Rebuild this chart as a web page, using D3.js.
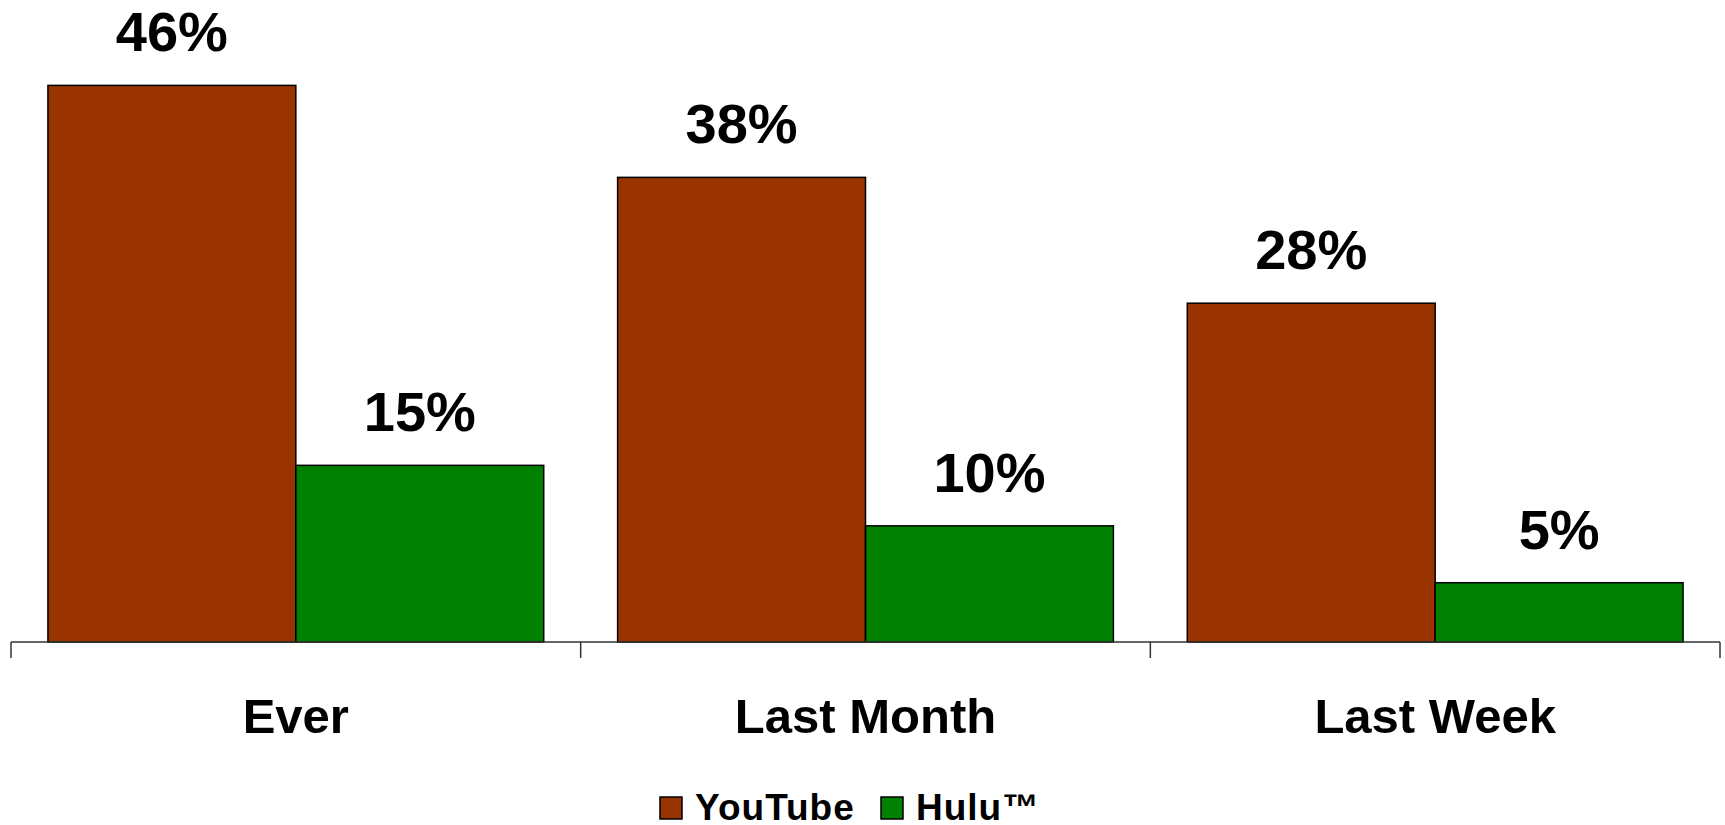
<!DOCTYPE html>
<html>
<head>
<meta charset="utf-8">
<script src="https://cdn.jsdelivr.net/npm/d3@7"></script>
<style>
  body { margin: 0; background: #fff; }
  text { font-family: "Liberation Sans", Arial, sans-serif; font-weight: bold; }
</style>
</head>
<body>
<script>
// width and height for svg
var w = 1725;
var h = 825;
var baseY = 642;

// chart data (bar heights, labels are rounded)
var categories = ["Ever", "Last Month", "Last Week"];
var series = ["YouTube", "Hulu\u2122"];
var youtube = [46, 38.4, 28];
var hulu = [14.6, 9.6, 4.9];
var colors = ["#993300", "#008000"];

var values = [youtube, hulu];

var svg = d3.select("body")
            .append("svg")
            .attr("width", w)
            .attr("height", h);

// scales
var x = d3.scaleBand()
          .domain(categories)
          .range([11, 1720]);

var xInner = d3.scaleBand()
               .domain(series)
               .range([0, x.bandwidth()])
               .paddingOuter(0.149);

var y = d3.scaleLinear()
          .domain([0, 50])
          .range([baseY, baseY - 50 * 12.1]);

// bars grouped by category
var groups = svg.selectAll(".group")
                .data(categories)
                .enter().append("g")
                .attr("class", "group")
                .attr("transform", d => "translate(" + x(d) + ",0)");

groups.selectAll("rect")
      .data((d, i) => series.map((s, j) => ({ s: s, j: j, v: values[j][i] })))
      .enter().append("rect")
      .attr("x", d => xInner(d.s))
      .attr("y", d => y(d.v))
      .attr("width", xInner.bandwidth())
      .attr("height", d => baseY - y(d.v))
      .attr("fill", d => colors[d.j])
      .attr("stroke", "#000")
      .attr("stroke-width", 1.5);

// value labels
groups.selectAll(".val")
      .data((d, i) => series.map((s, j) => ({ s: s, v: values[j][i] })))
      .enter().append("text")
      .attr("class", "val")
      .attr("x", d => xInner(d.s) + xInner.bandwidth() / 2)
      .attr("y", d => y(d.v) - 34)
      .attr("text-anchor", "middle")
      .style("font-size", "56px")
      .text(d => Math.round(d.v) + "%");

// x axis with ticks at category boundaries
svg.append("line")
   .attr("x1", 11).attr("x2", 1720)
   .attr("y1", baseY).attr("y2", baseY)
   .attr("stroke", "#333")
   .attr("stroke-width", 1.5);

var bounds = categories.map(c => x(c)).concat([x(categories[categories.length - 1]) + x.bandwidth()]);
svg.selectAll(".tick")
   .data(bounds)
   .enter().append("line")
   .attr("class", "tick")
   .attr("x1", d => d).attr("x2", d => d)
   .attr("y1", baseY).attr("y2", baseY + 16)
   .attr("stroke", "#333")
   .attr("stroke-width", 1.5);

svg.selectAll(".cat")
   .data(categories)
   .enter().append("text")
   .attr("class", "cat")
   .attr("x", d => x(d) + x.bandwidth() / 2)
   .attr("y", 733)
   .attr("text-anchor", "middle")
   .style("font-size", "49px")
   .text(d => d);

// legend
var legendItems = [
  { label: series[0], color: colors[0], x: 660 },
  { label: series[1], color: colors[1], x: 881 }
];

var legend = svg.selectAll(".legend")
                .data(legendItems)
                .enter().append("g")
                .attr("class", "legend")
                .attr("transform", d => "translate(" + d.x + ",797)");

legend.append("rect")
      .attr("width", 22)
      .attr("height", 22)
      .attr("fill", d => d.color)
      .attr("stroke", "#000")
      .attr("stroke-width", 1.5);

legend.append("text")
      .attr("x", 35)
      .attr("y", 23)
      .style("font-size", "37px")
      .style("letter-spacing", "1px")
      .text(d => d.label);
</script>
</body>
</html>
